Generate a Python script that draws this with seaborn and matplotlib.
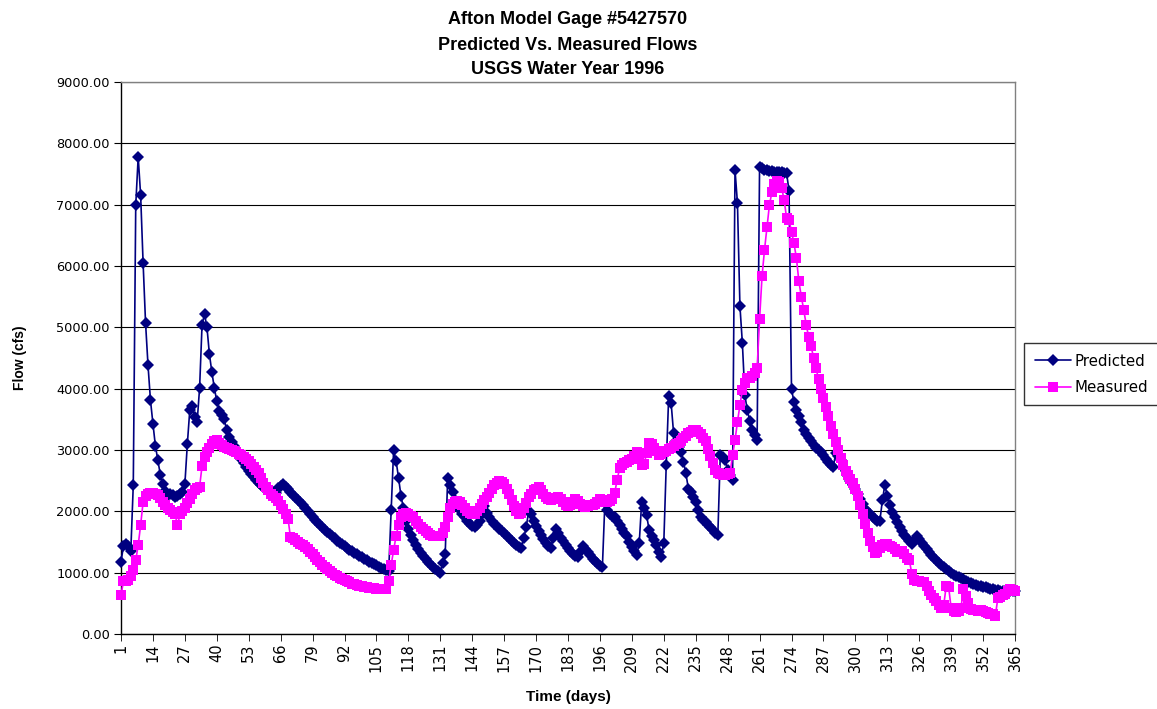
import numpy as np
import pandas as pd
import matplotlib
matplotlib.use("Agg")
import matplotlib.pyplot as plt
import seaborn as sns
from matplotlib.ticker import MultipleLocator, FixedLocator, FormatStrFormatter

# ---------------- data ----------------
title_lines = ["Afton Model Gage #5427570", "Predicted Vs. Measured Flows", "USGS Water Year 1996"]
series_names = ["Predicted", "Measured"]
tick_days = list(range(1, 366, 13))

predicted = [
    1180, 1430, 1470, 1440, 1360, 2430, 6990, 7780, 7150, 6050,   # 1-10
    5070, 4380, 3810, 3430, 3070, 2830, 2600, 2450, 2330, 2260,   # 11-20
    2280, 2260, 2240, 2250, 2280, 2320, 2440, 3090, 3650, 3720,   # 21-30
    3540, 3460, 4010, 5040, 5220, 5000, 4560, 4270, 4010, 3800,   # 31-40
    3640, 3570, 3500, 3330, 3220, 3130, 3060, 2990, 2920, 2850,   # 41-50
    2780, 2720, 2660, 2610, 2560, 2510, 2470, 2430, 2400, 2370,   # 51-60
    2350, 2330, 2310, 2300, 2380, 2420, 2440, 2400, 2360, 2320,   # 61-70
    2270, 2230, 2190, 2150, 2110, 2060, 2010, 1960, 1910, 1860,   # 71-80
    1820, 1780, 1740, 1700, 1660, 1630, 1590, 1560, 1520, 1490,   # 81-90
    1460, 1430, 1400, 1370, 1350, 1320, 1300, 1270, 1250, 1230,   # 91-100
    1210, 1180, 1160, 1140, 1120, 1100, 1080, 1060, 1040, 1030,   # 101-110
    2020, 3000, 2820, 2550, 2250, 2050, 1850, 1720, 1620, 1530,   # 111-120
    1450, 1380, 1320, 1270, 1220, 1180, 1140, 1100, 1060, 1030,   # 121-130
    1000, 1150, 1300, 2540, 2430, 2310, 2180, 2080, 2020, 1960,   # 131-140
    1900, 1850, 1800, 1760, 1740, 1780, 1850, 1950, 2080, 1980,   # 141-150
    1900, 1850, 1800, 1760, 1720, 1680, 1640, 1600, 1560, 1520,   # 151-160
    1480, 1450, 1420, 1410, 1560, 1750, 2000, 1960, 1850, 1760,   # 161-170
    1680, 1610, 1550, 1490, 1440, 1410, 1560, 1710, 1640, 1570,   # 171-180
    1510, 1450, 1400, 1360, 1310, 1270, 1250, 1340, 1440, 1390,   # 181-190
    1330, 1280, 1230, 1190, 1150, 1110, 1090, 2130, 2020, 1960,   # 191-200
    1920, 1900, 1840, 1780, 1720, 1650, 1590, 1500, 1420, 1350,   # 201-210
    1290, 1480, 2160, 2050, 1940, 1700, 1600, 1540, 1450, 1340,   # 211-220
    1260, 1480, 2760, 3880, 3760, 3270, 3150, 3050, 2970, 2810,   # 221-230
    2620, 2370, 2320, 2230, 2160, 2020, 1910, 1860, 1830, 1780,   # 231-240
    1750, 1700, 1640, 1610, 2920, 2880, 2840, 2670, 2600, 2510,   # 241-250
    7570, 7020, 5350, 4740, 3900, 3650, 3480, 3330, 3250, 3170,   # 251-260
    7620, 7590, 7570, 7560, 7550, 7550, 7540, 7540, 7530, 7530,   # 261-270
    7520, 7510, 7230, 3990, 3790, 3650, 3560, 3450, 3330, 3260,   # 271-280
    3200, 3150, 3080, 3030, 3000, 2970, 2920, 2860, 2800, 2750,   # 281-290
    2720, 2950, 2900, 2830, 2730, 2650, 2580, 2500, 2430, 2360,   # 291-300
    2280, 2200, 2120, 2040, 1990, 1950, 1910, 1870, 1840, 1850,   # 301-310
    2180, 2430, 2250, 2100, 1990, 1900, 1820, 1740, 1680, 1620,   # 311-320
    1560, 1510, 1470, 1510, 1600, 1550, 1490, 1430, 1380, 1330,   # 321-330
    1280, 1240, 1200, 1160, 1120, 1090, 1060, 1030, 1000, 970,    # 331-340
    950, 930, 910, 890, 870, 850, 830, 810, 800, 790,             # 341-350
    780, 770, 760, 750, 740, 730, 720, 710, 705, 700,             # 351-360
    700, 700, 700, 700, 700,                                      # 361-365
]

measured = [
    630, 860, 870, 880, 950, 1050, 1200, 1450, 1780, 2150,        # 1-10
    2250, 2280, 2300, 2300, 2290, 2260, 2210, 2150, 2100, 2060,   # 11-20
    2020, 1990, 1960, 1770, 1950, 2000, 2060, 2130, 2200, 2280,   # 21-30
    2350, 2380, 2400, 2740, 2880, 2960, 3040, 3100, 3150, 3160,   # 31-40
    3120, 3080, 3050, 3030, 3010, 3000, 2980, 2960, 2940, 2920,   # 41-50
    2890, 2860, 2820, 2770, 2730, 2680, 2620, 2550, 2470, 2400,   # 51-60
    2340, 2290, 2250, 2220, 2170, 2110, 2040, 1960, 1880, 1580,   # 61-70
    1560, 1530, 1500, 1470, 1450, 1420, 1380, 1340, 1300, 1250,   # 71-80
    1210, 1170, 1130, 1090, 1060, 1020, 990, 960, 940, 920,       # 81-90
    900, 880, 860, 840, 820, 810, 800, 790, 780, 770,             # 91-100
    760, 755, 750, 745, 740, 740, 740, 735, 740, 860,             # 101-110
    1130, 1370, 1600, 1780, 1900, 1960, 1970, 1960, 1930, 1900,   # 111-120
    1850, 1800, 1750, 1710, 1680, 1650, 1620, 1600, 1590, 1600,   # 121-130
    1600, 1640, 1750, 1900, 2050, 2120, 2150, 2170, 2150, 2100,   # 131-140
    2050, 2000, 1970, 1950, 1960, 2000, 2060, 2120, 2180, 2230,   # 141-150
    2300, 2370, 2430, 2470, 2500, 2480, 2440, 2370, 2280, 2180,   # 151-160
    2080, 2000, 1960, 1980, 2050, 2130, 2230, 2290, 2340, 2370,   # 161-170
    2390, 2350, 2290, 2240, 2200, 2190, 2200, 2220, 2230, 2200,   # 171-180
    2150, 2100, 2080, 2100, 2150, 2200, 2170, 2120, 2080, 2070,   # 181-190
    2080, 2100, 2110, 2120, 2160, 2200, 2180, 2150, 2160, 2170,   # 191-200
    2200, 2300, 2510, 2700, 2760, 2790, 2810, 2830, 2850, 2900,   # 201-210
    2970, 2850, 2760, 2770, 2950, 3120, 3100, 3040, 2980, 2920,   # 211-220
    2930, 2960, 2990, 3020, 3040, 3060, 3090, 3110, 3150, 3190,   # 221-230
    3230, 3270, 3300, 3320, 3330, 3300, 3260, 3200, 3140, 3020,   # 231-240
    2900, 2780, 2680, 2630, 2610, 2600, 2600, 2610, 2620, 2920,   # 241-250
    3160, 3460, 3730, 3980, 4100, 4170, 4180, 4200, 4250, 4330,   # 251-260
    5130, 5830, 6260, 6630, 6990, 7200, 7330, 7390, 7370, 7270,   # 261-270
    7080, 6780, 6750, 6560, 6370, 6130, 5750, 5500, 5280, 5040,   # 271-280
    4840, 4690, 4500, 4340, 4150, 3990, 3850, 3700, 3550, 3390,   # 281-290
    3260, 3130, 3000, 2870, 2760, 2660, 2590, 2530, 2470, 2370,   # 291-300
    2250, 2100, 1960, 1800, 1650, 1520, 1420, 1320, 1340, 1400,   # 301-310
    1450, 1470, 1470, 1440, 1420, 1380, 1340, 1330, 1360, 1300,   # 311-320
    1240, 1200, 980, 880, 860, 860, 850, 850, 780, 700,           # 321-330
    640, 590, 540, 480, 430, 480, 780, 760, 420, 380,             # 331-340
    360, 380, 420, 740, 620, 500, 400, 390, 390, 380,             # 341-350
    390, 380, 360, 340, 330, 320, 300, 580, 600, 630,             # 351-360
    660, 700, 740, 720, 700,                                      # 361-365
]

# ---------------- styling ----------------
sns.set_style("white")
plt.rcParams["font.family"] = ["DejaVu Sans"]
plt.rcParams["text.color"] = "black"
plt.rcParams["axes.labelcolor"] = "black"
plt.rcParams["xtick.color"] = "black"
plt.rcParams["ytick.color"] = "black"

fig = plt.figure(figsize=(11.57, 7.09), dpi=100)
ax = fig.add_axes([121 / 1157, 1 - 634 / 709, (1015 - 121) / 1157, (634 - 82) / 709])

days_p = np.arange(1, len(predicted) + 1)
days_m = np.arange(1, len(measured) + 1)

sns.lineplot(x=days_p, y=predicted, ax=ax, color="#000080", linewidth=1.2,
             marker="D", markersize=5.8, markeredgewidth=0, label=series_names[0],
             clip_on=False, zorder=3)
sns.lineplot(x=days_m, y=measured, ax=ax, color="#FF00FF", linewidth=1.2,
             marker="s", markersize=6.5, markeredgewidth=0, label=series_names[1],
             clip_on=False, zorder=4)

ax.set_xlim(1, 365)
ax.set_ylim(0, 9000)
ax.yaxis.set_major_locator(MultipleLocator(1000))
ax.yaxis.set_major_formatter(FormatStrFormatter("%.2f"))
ax.set_xticks(tick_days)
ax.set_xticklabels([str(d) for d in tick_days], rotation=90)
ax.xaxis.set_minor_locator(FixedLocator(list(range(1, 366))))

ax.tick_params(axis="x", which="both", direction="out", length=5, width=0.6,
               color="black", labelcolor="black", labelsize=10.5, pad=2)
ax.tick_params(axis="y", which="major", direction="out", length=5, width=0.8,
               color="black", labelcolor="black", labelsize=9.3, pad=3)
ax.tick_params(left=True, bottom=True)

ax.grid(axis="y", color="black", linewidth=0.8)
ax.grid(axis="x", visible=False)
ax.set_axisbelow(True)

for side in ["left", "bottom"]:
    ax.spines[side].set_color("black")
    ax.spines[side].set_linewidth(1.0)
for side in ["top", "right"]:
    ax.spines[side].set_color("#808080")
    ax.spines[side].set_linewidth(1.0)

ax.set_xlabel("")
ax.set_ylabel("")

# titles
tfont = dict(family=["Liberation Sans", "DejaVu Sans"], weight="bold", size=13,
             ha="center", va="center", color="black")
for i, line in enumerate(title_lines):
    fig.text(568 / 1157, 1 - (20 + 25 * i) / 709, line, **tfont)

fig.text(20 / 1157, 1 - 358 / 709, "Flow (cfs)", rotation=90, ha="center", va="center",
         family=["Liberation Sans", "DejaVu Sans"], weight="bold", size=10, color="black")
fig.text(568 / 1157, 1 - 697 / 709, "Time (days)", ha="center", va="center",
         family=["Liberation Sans", "DejaVu Sans"], weight="bold", size=11, color="black")

# legend
ax.get_legend().remove()
handles, labels = ax.get_legend_handles_labels()
leg = fig.legend(handles, labels, loc="upper left", bbox_to_anchor=(1024 / 1157, 1 - 343 / 709),
                 frameon=True, fancybox=False, edgecolor="black", fontsize=10.8,
                 handlelength=2.4, borderpad=0.7, labelspacing=0.75, handletextpad=0.3,
                 borderaxespad=0)
leg.get_frame().set_linewidth(1.0)
for t in leg.get_texts():
    t.set_color("black")

fig.savefig("out.png", dpi=100)
